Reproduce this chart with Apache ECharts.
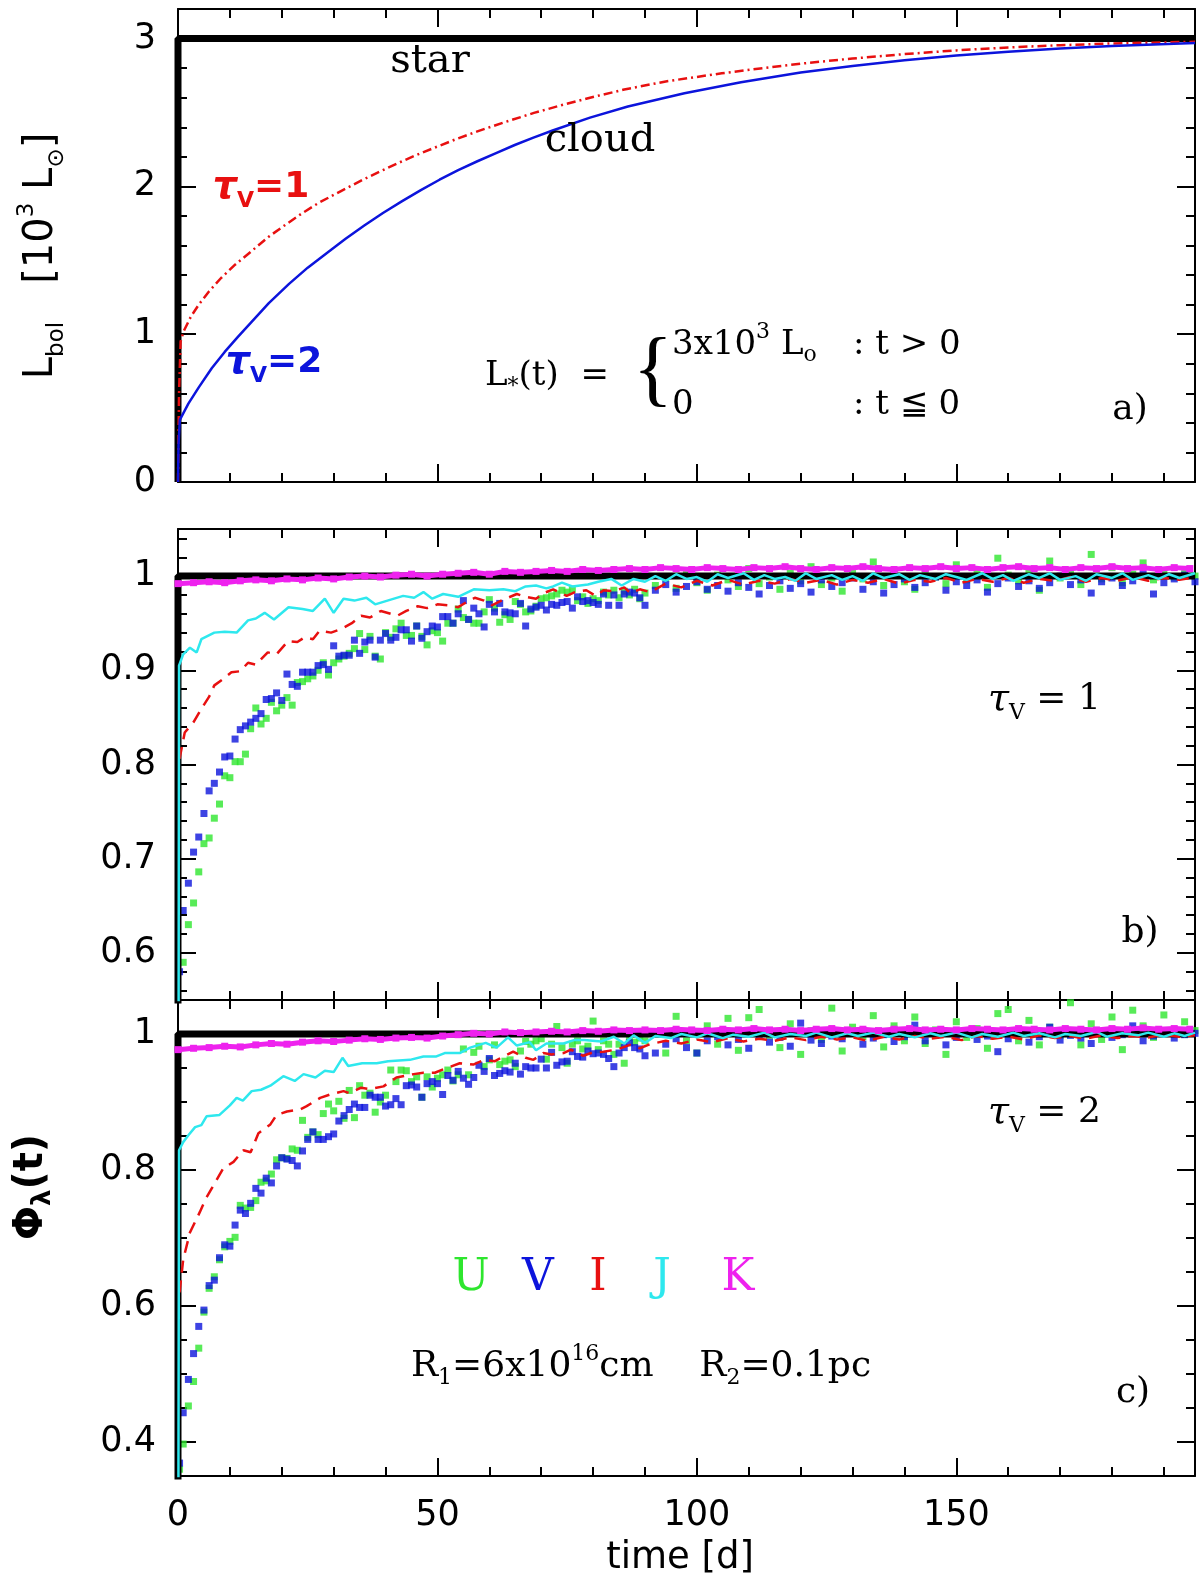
<!DOCTYPE html>
<html>
<head>
<meta charset="utf-8">
<script src="https://cdn.jsdelivr.net/npm/echarts@6/dist/echarts.min.js"></script>
<style>
html, body { margin: 0; padding: 0; background: #fff; }
#chart { width: 1200px; height: 1579px; }
</style>
</head>
<body>
<div id="chart"></div>
<script>
// ---- data ----
var X_MAX = 196;

// star step function (t, value)
var starT = [0, 0, 196];
var starLbol = [0, 3, 3];
var starPhi = [0, 1, 1];

// panel a: bolometric light curves of the cloud
var lbolTau1 = [[0,0],[0.2,0.6],[0.5,0.95],[1.1,1.02],[2.5,1.12],[4,1.20],[6,1.29],[8.3,1.38],[11,1.47],
  [14.1,1.56],[17.5,1.66],[20.7,1.74],[24,1.82],[27.2,1.89],[31.5,1.97],[35.9,2.05],[39.5,2.11],[43.2,2.17],
  [46.8,2.225],[50.4,2.275],[54,2.325],[57.7,2.372],[63,2.435],[68.6,2.497],[74,2.55],[79.4,2.60],[86,2.655],
  [94,2.71],[104.8,2.765],[112.8,2.80],[120,2.83],[130,2.865],[140,2.895],[150,2.92],[160,2.94],[170,2.955],
  [180,2.967],[196,2.978]];
var lbolTau2 = [[0,0],[0.1,0.25],[0.35,0.42],[2,0.53],[4,0.64],[6.5,0.77],[9,0.88],[11.5,0.98],[14.1,1.08],
  [17.5,1.21],[21.4,1.34],[25,1.45],[28.7,1.55],[32.3,1.645],[35.9,1.735],[39.5,1.82],[43.2,1.90],[46.8,1.975],
  [50.4,2.045],[54,2.11],[57.7,2.17],[61.3,2.225],[64.9,2.28],[68.5,2.33],[72.2,2.378],[79.4,2.465],[86.7,2.54],
  [97.6,2.63],[108.5,2.705],[120,2.77],[130,2.815],[140,2.853],[150,2.885],[160,2.91],[170,2.932],[180,2.95],
  [196,2.97]];

// panels b, c: times of the U and V points
var tDays = [0.3,1,2,3,4,5,6,7,8,9,10,11,12,13,14,15,16,17,18,19,20,21,22,23,24,25,26,27,28,29,30,
  31,32,33,34,35,36,37,38,39,40,41,42,43,44,45,46,47,48,49,50,51,52,53,54,55,56,57,58,59,60,
  61,62,63,64,65,66,67,68,69,70,71,72,73,74,75,76,77,78,79,80,81,82,83,84,85,86,87,88,89,90,
  92,94,96,98,100,102,104,106,108,110,112,114,116,118,120,122,124,126,128,130,132,134,136,138,140,
  142,144,146,148,150,152,154,156,158,160,162,164,166,168,170,172,174,176,178,180,182,184,186,188,190,
  192,194,196];
// times of the K points
var tK = [0,3,6,9,12,15,18,21,24,27,30,33,36,39,42,45,48,51,54,57,60,63,66,69,72,75,78,81,84,87,90,
  93,96,99,102,105,108,111,114,117,120,123,126,129,132,135,138,141,144,147,150,153,156,159,162,165,
  168,171,174,177,180,183,186,189,192,195];

// panel b (tau_V = 1)
var uTau1 = [0.54,
  0.590,0.630,0.653,0.686,0.716,0.722,0.743,0.758,0.788,0.786,
  0.803,0.803,0.811,0.838,0.860,0.843,0.849,0.866,0.857,0.863,
  0.871,0.863,0.887,0.888,0.891,0.894,0.900,0.908,0.895,0.908,
  0.912,0.915,0.918,0.923,0.939,0.922,0.936,0.915,0.912,0.940,
  0.935,0.944,0.950,0.937,0.937,0.947,0.936,0.927,0.942,0.940,
  0.931,0.950,0.950,0.965,0.956,0.954,0.950,0.950,0.962,0.975,
  0.966,0.951,0.959,0.954,0.973,0.970,0.962,0.963,0.968,0.976,
  0.977,0.979,0.981,0.985,0.983,0.986,0.974,0.978,0.971,0.976,
  0.974,0.983,0.980,0.985,0.977,0.984,0.980,0.986,0.976,0.982,
  0.990,0.998,0.987,1.004,0.993,0.985,1.001,0.996,0.989,1.008,
  0.992,0.999,0.986,1.003,0.995,1.010,0.991,0.998,0.984,1.005,
  0.997,1.015,0.990,1.002,0.994,0.986,1.006,0.999,0.992,1.012,
  0.996,1.003,0.988,1.019,1.001,0.995,1.007,0.985,1.016,0.998,
  1.004,0.991,1.023,0.997,1.009,0.993,1.002,1.014,0.996,1.006,
  0.999,1.004,1.000];
var vTau1 = [0.58,
  0.645,0.674,0.707,0.723,0.748,0.772,0.780,0.792,0.808,0.809,
  0.827,0.837,0.841,0.845,0.849,0.854,0.869,0.870,0.876,0.868,
  0.896,0.885,0.883,0.898,0.898,0.898,0.905,0.906,0.901,0.926,
  0.915,0.916,0.916,0.932,0.918,0.930,0.932,0.914,0.932,0.939,
  0.932,0.935,0.943,0.943,0.931,0.947,0.934,0.941,0.947,0.946,
  0.957,0.957,0.950,0.960,0.974,0.954,0.966,0.960,0.946,0.970,
  0.962,0.971,0.962,0.961,0.960,0.971,0.947,0.965,0.967,0.969,
  0.964,0.970,0.969,0.972,0.973,0.966,0.978,0.973,0.974,0.972,
  0.970,0.981,0.969,0.980,0.969,0.981,0.983,0.982,0.977,0.969,
  0.985,0.991,0.983,0.989,0.994,0.986,0.990,0.984,0.993,0.988,
  0.981,0.990,0.995,0.987,0.992,0.983,0.996,0.989,0.993,0.998,
  0.986,0.994,0.982,0.991,0.997,0.988,0.993,0.999,0.985,0.994,
  0.990,0.996,0.983,0.992,0.998,0.989,0.995,0.987,0.993,1.000,
  0.991,0.996,0.982,0.994,0.998,0.990,0.995,1.002,0.981,0.993,
  0.997,1.001,0.994];
var iTau1 = [[0.3,0.806],[1.3,0.834],[3,0.845],[4.5,0.859],[6,0.872],[7,0.884],[8.5,0.890],[10.3,0.898],[12,0.899],
  [13.5,0.908],[15,0.906],[17.3,0.919],[19,0.917],[21.2,0.931],[23,0.930],[24.4,0.935],[26,0.933],[27.3,0.942],
  [29.5,0.940],[31.5,0.944],[33.5,0.950],[35.3,0.958],[37,0.956],[39.1,0.963],[41,0.960],[42.3,0.958],[44,0.963],
  [46.2,0.968],[48,0.966],[50,0.970],[52,0.969],[54,0.967],[55.5,0.972],[57.2,0.977],[59,0.974],[60.5,0.969],
  [62.7,0.975],[65.3,0.981],[67,0.978],[69,0.976],[70.5,0.982],[72.3,0.986],[74.9,0.979],[76.5,0.983],[78.7,0.985],
  [80.5,0.979],[82,0.985],[84,0.984],[86,0.988],[87.2,0.982],[89,0.986],[91,0.983],[94,0.992],[97,0.988],
  [100,0.995],[103,0.990],[106,0.996],[109,0.991],[112,0.995],[115,0.992],[118,0.997],[121,0.993],[124,0.996],
  [127,0.991],[130,0.996],[133,0.993],[136,0.997],[139,0.992],[142,0.996],[145,0.994],[148,0.998],[151,0.993],
  [154,0.997],[157,0.994],[160,0.998],[163,0.993],[166,0.997],[169,0.995],[172,0.999],[175,0.994],[178,0.998],
  [181,0.995],[184,0.999],[187,0.995],[190,0.998],[193,0.996],[196,0.999]];
var jTau1 = [[0,0],[0.2,0.905],[1,0.917],[2.3,0.924],[3.6,0.919],[4.5,0.933],[7,0.940],[9,0.941],[11.3,0.940],
  [13.5,0.953],[15,0.955],[16.7,0.961],[18.5,0.954],[21.3,0.967],[24,0.965],[26,0.963],[28.3,0.976],[30,0.961],
  [31.9,0.976],[34,0.974],[36.3,0.977],[38,0.970],[41,0.975],[43.4,0.979],[45.5,0.977],[47.3,0.983],[49,0.976],
  [51.1,0.981],[54,0.978],[57,0.986],[60,0.985],[62.7,0.986],[65,0.984],[67,0.989],[69,0.990],[71,0.987],
  [72.3,0.989],[74,0.993],[76,0.989],[79,0.991],[81,0.994],[83.5,0.997],[85.5,0.990],[87.8,0.997],[90,0.994],
  [92,1.000],[94,0.995],[96,1.002],[98,0.997],[100,0.999],[102,0.994],[104,1.002],[106,0.998],[109,1.003],
  [111,0.996],[113,1.001],[115,0.997],[117,0.999],[119,0.995],[121,1.003],[123,0.997],[126,1.001],[128,0.996],
  [130,1.000],[132,0.995],[134,1.003],[136,0.998],[139,1.002],[141,0.996],[143,1.001],[146,0.997],[148,1.002],
  [150,0.999],[152,0.996],[155,1.003],[157,0.997],[159,1.001],[161,0.995],[164,1.002],[166,0.998],[168,1.003],
  [170,0.996],[173,1.000],[175,0.995],[177,1.002],[180,0.998],[182,1.003],[184,0.996],[187,1.001],[189,0.997],
  [191,1.002],[193,0.998],[196,1.003]];
var kTau1 = [0.992,0.993,0.994,0.993,0.995,0.996,0.995,0.997,0.996,0.998,
  0.997,0.999,1.000,0.999,1.001,1.002,1.000,1.002,1.003,1.004,
  1.002,1.005,1.004,1.005,1.006,1.005,1.007,1.006,1.007,1.008,
  1.007,1.009,1.008,1.007,1.009,1.008,1.007,1.009,1.008,1.010,
  1.008,1.007,1.009,1.008,1.010,1.008,1.007,1.009,1.008,1.010,
  1.008,1.009,1.007,1.009,1.010,1.008,1.009,1.007,1.009,1.008,
  1.010,1.008,1.009,1.007,1.009,1.008];

// panel c (tau_V = 2)
var uTau2 = [0.36,
  0.397,0.453,0.489,0.538,0.591,0.626,0.643,0.668,0.687,0.695,
  0.701,0.748,0.744,0.745,0.755,0.782,0.784,0.794,0.815,0.818,
  0.817,0.831,0.829,0.873,0.848,0.856,0.852,0.883,0.897,0.887,
  0.901,0.876,0.917,0.877,0.924,0.910,0.913,0.885,0.900,0.910,
  0.947,0.930,0.947,0.946,0.930,0.937,0.907,0.937,0.922,0.935,
  0.940,0.947,0.931,0.940,0.978,0.940,0.973,0.982,0.952,0.962,
  0.984,0.955,0.960,0.962,0.952,0.975,0.989,0.985,0.990,0.993,
  0.963,0.985,1.011,0.980,0.957,0.985,0.990,0.978,0.982,1.019,
  0.977,0.990,0.985,0.970,0.985,0.957,0.995,0.988,0.994,0.990,
  1.000,0.972,1.026,0.990,0.972,1.012,0.985,1.023,0.976,1.024,
  1.036,0.998,0.980,1.015,0.970,1.005,0.992,1.038,0.975,1.010,
  0.996,1.027,0.981,1.012,0.990,1.025,0.986,1.006,0.970,1.018,
  0.995,1.008,0.979,1.030,1.036,0.990,1.020,0.984,1.010,0.998,
  1.046,0.984,1.015,0.992,1.025,0.977,1.035,1.012,0.995,1.028,
  1.002,1.018,1.005];
var vTau2 = [0.369,
  0.443,0.492,0.530,0.570,0.594,0.630,0.638,0.671,0.690,0.688,
  0.719,0.741,0.736,0.751,0.773,0.766,0.788,0.781,0.806,0.818,
  0.816,0.814,0.806,0.828,0.845,0.856,0.845,0.845,0.849,0.853,
  0.872,0.880,0.889,0.897,0.892,0.892,0.910,0.907,0.907,0.894,
  0.896,0.905,0.896,0.924,0.925,0.922,0.907,0.927,0.930,0.927,
  0.911,0.939,0.932,0.945,0.935,0.926,0.936,0.954,0.945,0.964,
  0.939,0.942,0.946,0.944,0.957,0.941,0.952,0.950,0.950,0.963,
  0.950,0.973,0.954,0.959,0.960,0.974,0.967,0.966,0.975,0.971,
  0.972,0.970,0.964,0.952,0.972,0.980,0.987,0.980,0.978,0.968,
  0.972,0.985,0.993,0.980,0.972,0.990,0.996,0.984,0.992,0.979,
  0.998,0.988,0.995,0.982,1.016,0.991,0.986,0.997,0.993,1.003,
  0.985,0.994,0.999,0.989,0.996,1.013,0.990,0.998,0.984,0.995,
  1.001,0.992,0.997,0.974,0.993,1.002,0.988,0.996,1.010,0.991,
  0.998,0.994,0.986,1.003,0.995,0.999,1.012,0.990,0.997,1.004,
  0.994,0.999,1.001];
var iTau2 = [[0.3,0.62],[1,0.668],[2.3,0.708],[4.2,0.738],[5.3,0.757],[6.8,0.777],[8.7,0.802],[10.7,0.812],
  [12.6,0.829],[14,0.826],[15.5,0.854],[17.8,0.867],[19,0.881],[21,0.886],[23.5,0.889],[24.8,0.894],[27.4,0.906],
  [29.3,0.911],[31.9,0.916],[33,0.913],[35.3,0.921],[37,0.919],[39.6,0.923],[42.1,0.936],[45.4,0.941],[47.3,0.943],
  [49.5,0.943],[51.1,0.948],[54.3,0.957],[56.9,0.955],[59,0.962],[61.1,0.960],[62.7,0.967],[64.6,0.974],[67,0.965],
  [68.5,0.962],[70.4,0.972],[72,0.970],[74.3,0.972],[75.7,0.977],[78.1,0.968],[80,0.973],[82,0.974],[84.5,0.977],
  [87.1,0.984],[89,0.979],[91,0.985],[94,0.990],[97,0.986],[100,0.992],[103,0.988],[106,0.994],[109,0.989],
  [112,0.993],[115,0.990],[118,0.995],[121,0.991],[124,0.996],[127,0.992],[130,0.995],[133,0.990],[136,0.996],
  [139,0.992],[142,0.997],[145,0.993],[148,0.996],[151,0.991],[154,0.997],[157,0.993],[160,0.996],[163,0.992],
  [166,0.998],[169,0.994],[172,0.997],[175,0.993],[178,0.998],[181,0.994],[184,0.997],[187,0.995],[190,0.999],
  [193,0.996],[196,0.998]];
var jTau2 = [[0,0],[0.2,0.829],[1,0.841],[2,0.851],[3.3,0.863],[4.5,0.866],[5.5,0.879],[8,0.881],[10,0.895],
  [11.3,0.906],[12.5,0.902],[14.2,0.916],[16,0.918],[17.8,0.924],[20.3,0.938],[22.5,0.931],[24.2,0.941],[26.5,0.936],
  [28.3,0.946],[30,0.944],[31.7,0.965],[32.8,0.953],[35.5,0.957],[38.3,0.957],[40.5,0.960],[44.7,0.962],[47.3,0.967],
  [49.8,0.967],[51.4,0.972],[54.3,0.972],[56.3,0.980],[59.3,0.987],[61.4,0.980],[63.6,0.995],[65.3,0.983],
  [67.8,0.988],[69,0.976],[71,0.986],[74.3,0.986],[76.3,0.991],[78.3,0.991],[81.5,0.989],[84,0.996],[86,0.986],
  [87.8,0.998],[90,0.987],[92,0.997],[95,0.994],[97,1.000],[100,0.995],[102,1.001],[105,0.994],[107,0.999],
  [110,0.996],[113,1.002],[115,0.995],[118,1.000],[121,0.997],[123,1.002],[126,0.995],[129,1.001],[131,0.997],
  [134,1.002],[137,0.996],[139,1.000],[142,0.995],[145,1.001],[147,0.997],[150,1.002],[153,0.995],[155,1.000],
  [158,0.996],[161,1.002],[163,0.997],[166,1.001],[169,0.995],[171,1.000],[174,0.997],[177,1.003],[179,0.996],
  [182,1.001],[185,0.998],[187,1.002],[190,0.996],[192,1.001],[194,0.997],[196,1.002]];
var kTau2 = [0.977,0.979,0.980,0.982,0.981,0.984,0.986,0.985,0.988,0.990,
  0.989,0.991,0.993,0.992,0.994,0.995,0.994,0.997,0.999,1.001,
  1.000,1.003,1.002,1.003,1.004,1.003,1.005,1.004,1.006,1.005,
  1.006,1.005,1.007,1.006,1.005,1.007,1.006,1.008,1.006,1.007,
  1.005,1.007,1.008,1.006,1.007,1.005,1.007,1.008,1.006,1.007,
  1.006,1.008,1.007,1.006,1.008,1.007,1.006,1.008,1.007,1.006,
  1.008,1.007,1.009,1.007,1.008,1.007];

// axis ranges per panel: [min, max, major step, minor step]
var yRanges = [[0, 3.2, 1, 0.2], [0.55, 1.05, 0.1, 0.02], [0.35, 1.05, 0.2, 0.05]];

// ---- layout ----
var LEFT = 178, WIDTH = 1017;
var PANELS = [{ top: 9, height: 473 }, { top: 529, height: 471 }, { top: 1000, height: 476 }];
var C = { U: '#2ee62e', V: '#0c14dc', I: '#e81010', J: '#2ee8ee', K: '#ee22ee' };
var SANS = 'DejaVu Sans', SERIF = 'DejaVu Serif';

function zip(t, v) {
  return t.map(function (x, i) { return [x, v[i]]; });
}

function onStep(v, step) {
  var k = v / step;
  return Math.abs(k - Math.round(k)) < 1e-6;
}

function axis(g, pos, min, max, step, len, showLine, showLabel) {
  return {
    type: 'value', gridIndex: g, position: pos, min: min, max: max,
    minInterval: step, maxInterval: step, splitNumber: Math.round((max - min) / step),
    axisLine: { show: showLine, onZero: false, lineStyle: { color: '#000', width: 2 } },
    axisTick: { show: true, inside: true, length: len, lineStyle: { color: '#000', width: 2 } },
    axisLabel: {
      show: showLabel, margin: 22, color: '#000', fontFamily: SANS, fontSize: 35,
      formatter: function (v) { return onStep(v, step) ? String(Math.round(v * 100) / 100) : ''; }
    },
    splitLine: { show: false }
  };
}

var xAxes = [], yAxes = [];
PANELS.forEach(function (p, g) {
  var r = yRanges[g];
  xAxes.push(axis(g, 'bottom', 0, X_MAX, 50, 18, true, g === 2));
  xAxes.push(axis(g, 'bottom', 0, X_MAX, 10, 9, false, false));
  xAxes.push(axis(g, 'top', 0, X_MAX, 50, 18, true, false));
  xAxes.push(axis(g, 'top', 0, X_MAX, 10, 9, false, false));
  yAxes.push(axis(g, 'left', r[0], r[1], r[2], 18, true, true));
  yAxes.push(axis(g, 'left', r[0], r[1], r[3], 9, false, false));
  yAxes.push(axis(g, 'right', r[0], r[1], r[2], 18, true, false));
  yAxes.push(axis(g, 'right', r[0], r[1], r[3], 9, false, false));
});

function line(g, data, color, width, type) {
  return {
    type: 'line', xAxisIndex: 4 * g, yAxisIndex: 4 * g, data: data, showSymbol: false,
    lineStyle: { color: color, width: width, type: type || 'solid' }, silent: true
  };
}
function dots(g, data, color) {
  return {
    type: 'scatter', xAxisIndex: 4 * g, yAxisIndex: 4 * g, data: data, symbol: 'rect',
    symbolSize: 7, itemStyle: { color: color }, silent: true
  };
}
function kband(g, data) {
  return {
    type: 'line', xAxisIndex: 4 * g, yAxisIndex: 4 * g, data: data, symbol: 'rect', symbolSize: 7,
    showSymbol: true, itemStyle: { color: C.K }, lineStyle: { color: C.K, width: 5 }, silent: true
  };
}

var series = [
  line(0, zip(starT, starLbol), '#000', 7),
  line(0, lbolTau1, C.I, 2.5, [9, 4, 2, 4]),
  line(0, lbolTau2, C.V, 2.5),

  line(1, zip(starT, starPhi), '#000', 7),
  line(1, iTau1, C.I, 2.5, [12, 8]),
  dots(1, zip(tDays, uTau1), C.U),
  dots(1, zip(tDays, vTau1), C.V),
  line(1, jTau1, C.J, 2.5),
  kband(1, zip(tK, kTau1)),

  line(2, zip(starT, starPhi), '#000', 7),
  line(2, iTau2, C.I, 2.5, [12, 8]),
  dots(2, zip(tDays, uTau2), C.U),
  dots(2, zip(tDays, vTau2), C.V),
  line(2, jTau2, C.J, 2.5),
  kband(2, zip(tK, kTau2))
];

// ---- texts ----
function txt(x, y, text, style, rot) {
  return {
    type: 'text', x: x, y: y, rotation: rot || 0, z: 100, silent: true,
    style: Object.assign({ text: text, fill: '#000', align: 'center', verticalAlign: 'middle',
      fontFamily: SANS, fontSize: 36 }, style)
  };
}
function rs(size, family, extra) {
  return Object.assign({ fontSize: size, fontFamily: family }, extra || {});
}

var tauRich = function (color, bold) {
  var w = bold ? 'bold' : 'normal';
  return {
    t: rs(38, bold ? SANS : SERIF, { fontStyle: 'italic', fontWeight: w, fill: color }),
    s: rs(22, bold ? SANS : SERIF, { fontWeight: w, fill: color, padding: [26, 0, 0, 0] }),
    n: rs(36, bold ? SANS : SERIF, { fontWeight: w, fill: color })
  };
};

var graphics = [
  txt(430, 62, 'star', { fontFamily: SERIF, fontSize: 40 }),
  txt(600, 141, 'cloud', { fontFamily: SERIF, fontSize: 40 }),
  txt(261, 188, '{t|τ}{s|V}{n|=1}', { rich: tauRich(C.I, true) }),
  txt(274, 363, '{t|τ}{s|V}{n|=2}', { rich: tauRich(C.V, true) }),
  txt(485, 376, '{a|L}{s|*}{a|(t)  =}', { align: 'left', rich: {
    a: rs(34, SERIF), s: rs(22, SERIF, { padding: [22, 0, 0, 0] }) } }),
  txt(653, 374, '{', { fontFamily: 'Liberation Serif', fontSize: 84 }),
  txt(672, 345, '{a|3x10}{p|3}{a| L}{s|o}', { align: 'left', rich: {
    a: rs(34, SERIF), p: rs(22, SERIF, { padding: [0, 0, 26, 0] }), s: rs(22, SERIF, { padding: [20, 0, 0, 0] }) } }),
  txt(853, 345, ': t > 0', { align: 'left', fontFamily: SERIF, fontSize: 34 }),
  txt(672, 405, '0', { align: 'left', fontFamily: SERIF, fontSize: 34 }),
  txt(853, 405, ': t ≦ 0', { align: 'left', fontFamily: SERIF, fontSize: 34 }),
  txt(1130, 410, 'a)', { fontFamily: SERIF, fontSize: 36 }),

  txt(988, 700, '{t|τ}{s|V}{n| = 1}', { align: 'left', rich: tauRich('#000', false) }),
  txt(1140, 933, 'b)', { fontFamily: SERIF, fontSize: 36 }),

  txt(988, 1113, '{t|τ}{s|V}{n| = 2}', { align: 'left', rich: tauRich('#000', false) }),
  txt(1133, 1393, 'c)', { fontFamily: SERIF, fontSize: 36 }),
  txt(471, 1279, 'U', { fontFamily: SERIF, fontSize: 44, fill: C.U }),
  txt(538, 1279, 'V', { fontFamily: SERIF, fontSize: 44, fill: C.V }),
  txt(598, 1279, 'I', { fontFamily: SERIF, fontSize: 44, fill: C.I }),
  txt(662, 1279, 'J', { fontFamily: SERIF, fontSize: 44, fill: C.J }),
  txt(738, 1279, 'K', { fontFamily: SERIF, fontSize: 44, fill: C.K }),
  txt(411, 1367, '{a|R}{s|1}{a|=6x10}{p|16}{a|cm    R}{s|2}{a|=0.1pc}', { align: 'left', rich: {
    a: rs(36, SERIF), s: rs(22, SERIF, { padding: [22, 0, 0, 0] }), p: rs(22, SERIF, { padding: [0, 0, 26, 0] }) } }),

  txt(680, 1558, 'time [d]', { fontSize: 37 }),
  txt(42, 256, '{a|L}{s|bol}{a|   [10}{p|3}{a| L}{s|⊙}{a|]}', { rich: {
    a: rs(40, SANS), s: rs(23, SANS, { padding: [30, 0, 0, 0] }), p: rs(23, SANS, { padding: [0, 0, 30, 0] }) } }, Math.PI / 2),
  txt(32, 1187, '{a|Φ}{s|λ}{a|(t)}', { rich: {
    a: rs(40, SANS, { fontWeight: 'bold' }), s: rs(26, SANS, { fontWeight: 'bold', padding: [22, 0, 0, 0] }) } }, Math.PI / 2)
];

var chart = echarts.init(document.getElementById('chart'), null, { renderer: 'canvas' });
chart.setOption({
  animation: false,
  backgroundColor: '#fff',
  grid: PANELS.map(function (p) {
    return { left: LEFT, top: p.top, width: WIDTH, height: p.height, containLabel: false };
  }),
  xAxis: xAxes,
  yAxis: yAxes,
  series: series,
  graphic: graphics
});
</script>
</body>
</html>
